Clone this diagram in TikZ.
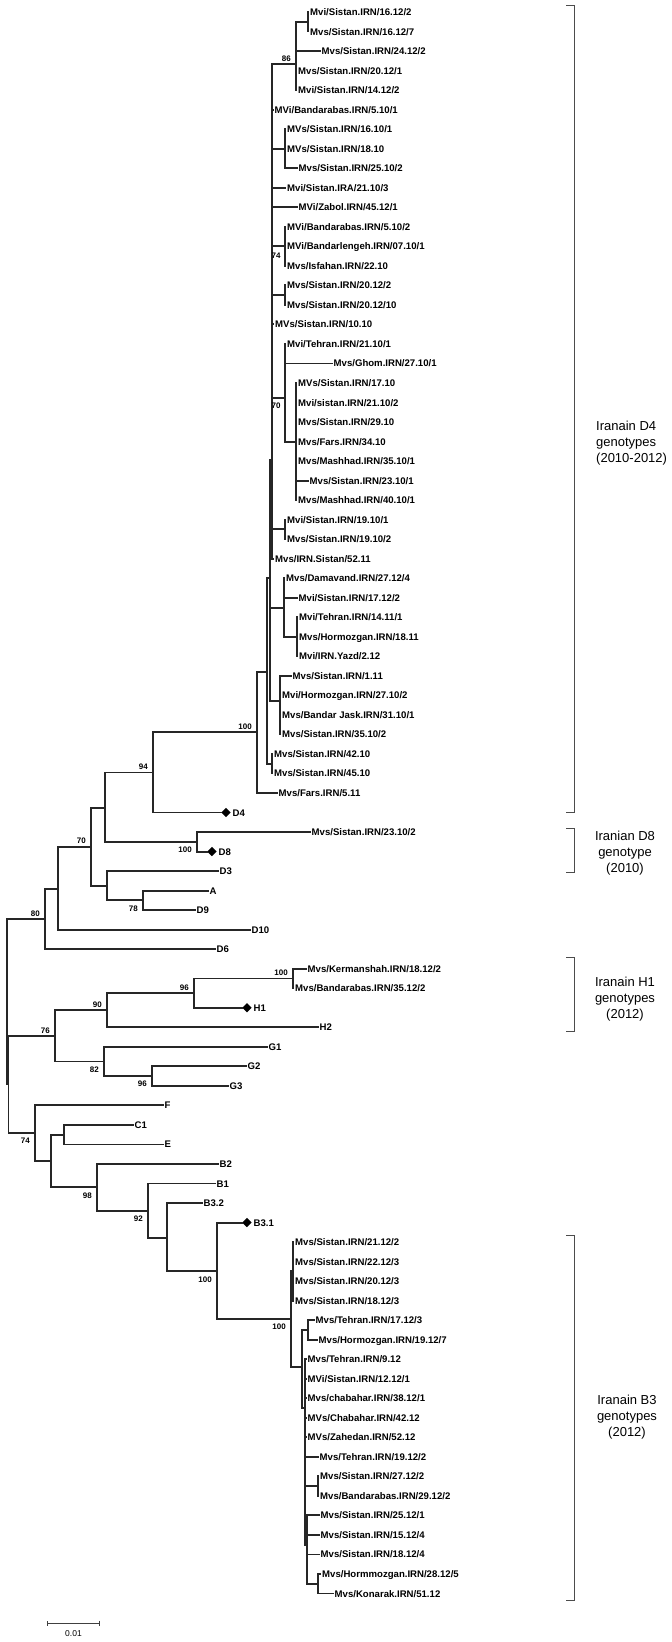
\documentclass[tikz,border=0pt]{standalone}
\usepackage{fontspec}
\setmainfont{Liberation Sans}
\usepackage{tikz}
\usetikzlibrary{shapes.geometric, arrows.meta, positioning}

\begin{document}
\begin{tikzpicture}[
        x=1pt, y=-19.525pt,
        branch/.style={line width=1.9pt, draw=black!85, line cap=rect},
        leaf/.style={anchor=west, inner xsep=1.5pt, inner ysep=0pt, text height=7pt, text depth=0pt, font=\fontsize{9.6}{10}\selectfont\bfseries},
        refdot/.style={diamond, fill=black, inner sep=0pt, minimum size=9.5pt, anchor=west},
        bsup/.style={anchor=south east, inner sep=0pt, xshift=-5pt, yshift=2.5pt, font=\fontsize{8}{8}\selectfont\bfseries},
        bsdown/.style={anchor=north east, inner sep=0pt, xshift=-5pt, yshift=-5pt, font=\fontsize{8}{8}\selectfont\bfseries},
        bsmid/.style={anchor=center, inner sep=0pt, font=\fontsize{8}{8}\selectfont\bfseries},
        bracket/.style={draw=black!70, line width=0.9pt},
        grouptext/.style={inner sep=0pt, font=\fontsize{13}{16}\selectfont},
        scalebar/.style={{Bar[width=5pt]}-{Bar[width=5pt]}, line width=0.8pt, draw=black!75}
    ]
        \useasboundingbox (0,0.3854) rectangle (672,84.483);

        % D4 CLADE (IRANIAN SEQUENCES 2010-2012)
        \node[leaf] (l1) at (308.5,1) {Mvi/Sistan.IRN/16.12/2};
        \node[leaf] (l2) at (308.5,2) {Mvs/Sistan.IRN/16.12/7};
        \node[leaf] (l3) at (320,3) {Mvs/Sistan.IRN/24.12/2};
        \node[leaf] (l4) at (296.5,4) {Mvs/Sistan.IRN/20.12/1};
        \node[leaf] (l5) at (296.5,5) {Mvi/Sistan.IRN/14.12/2};
        \node[leaf] (l6) at (273,6) {MVi/Bandarabas.IRN/5.10/1};
        \node[leaf] (l7) at (285.5,7) {MVs/Sistan.IRN/16.10/1};
        \node[leaf] (l8) at (285.5,8) {MVs/Sistan.IRN/18.10};
        \node[leaf] (l9) at (297,9) {Mvs/Sistan.IRN/25.10/2};
        \node[leaf] (l10) at (285.5,10) {Mvi/Sistan.IRA/21.10/3};
        \node[leaf] (l11) at (297,11) {MVi/Zabol.IRN/45.12/1};
        \node[leaf] (l12) at (285.5,12) {MVi/Bandarabas.IRN/5.10/2};
        \node[leaf] (l13) at (285.5,13) {MVi/Bandarlengeh.IRN/07.10/1};
        \node[leaf] (l14) at (285.5,14) {Mvs/Isfahan.IRN/22.10};
        \node[leaf] (l15) at (285.5,15) {Mvs/Sistan.IRN/20.12/2};
        \node[leaf] (l16) at (285.5,16) {Mvs/Sistan.IRN/20.12/10};
        \node[leaf] (l17) at (273.5,17) {MVs/Sistan.IRN/10.10};
        \node[leaf] (l18) at (285.5,18) {Mvi/Tehran.IRN/21.10/1};
        \node[leaf] (l19) at (332,19) {Mvs/Ghom.IRN/27.10/1};
        \node[leaf] (l20) at (296.5,20) {MVs/Sistan.IRN/17.10};
        \node[leaf] (l21) at (296.5,21) {Mvi/sistan.IRN/21.10/2};
        \node[leaf] (l22) at (296.5,22) {Mvs/Sistan.IRN/29.10};
        \node[leaf] (l23) at (296.5,23) {Mvs/Fars.IRN/34.10};
        \node[leaf] (l24) at (296.5,24) {Mvs/Mashhad.IRN/35.10/1};
        \node[leaf] (l25) at (308,25) {Mvs/Sistan.IRN/23.10/1};
        \node[leaf] (l26) at (296.5,26) {Mvs/Mashhad.IRN/40.10/1};
        \node[leaf] (l27) at (285.5,27) {Mvi/Sistan.IRN/19.10/1};
        \node[leaf] (l28) at (285.5,28) {Mvs/Sistan.IRN/19.10/2};
        \node[leaf] (l29) at (273.5,29) {Mvs/IRN.Sistan/52.11};
        \node[leaf] (l30) at (284.5,30) {Mvs/Damavand.IRN/27.12/4};
        \node[leaf] (l31) at (297,31) {Mvi/Sistan.IRN/17.12/2};
        \node[leaf] (l32) at (297.5,32) {Mvi/Tehran.IRN/14.11/1};
        \node[leaf] (l33) at (297.5,33) {Mvs/Hormozgan.IRN/18.11};
        \node[leaf] (l34) at (297.5,34) {Mvi/IRN.Yazd/2.12};
        \node[leaf] (l35) at (291,35) {Mvs/Sistan.IRN/1.11};
        \node[leaf] (l36) at (280.5,36) {Mvi/Hormozgan.IRN/27.10/2};
        \node[leaf] (l37) at (280.5,37) {Mvs/Bandar Jask.IRN/31.10/1};
        \node[leaf] (l38) at (280.5,38) {Mvs/Sistan.IRN/35.10/2};
        \node[leaf] (l39) at (272.5,39) {Mvs/Sistan.IRN/42.10};
        \node[leaf] (l40) at (272.5,40) {Mvs/Sistan.IRN/45.10};
        \node[leaf] (l41) at (277,41) {Mvs/Fars.IRN/5.11};

        % REFERENCE STRAINS AND SMALL CLADES
        \node[refdot] (d42) at (221,42) {};
        \node[leaf, right=0pt of d42] (l42) {D4};
        \node[leaf] (l43) at (310,43) {Mvs/Sistan.IRN/23.10/2};
        \node[refdot] (d44) at (207,44) {};
        \node[leaf, right=0pt of d44] (l44) {D8};
        \node[leaf] (l45) at (218,45) {D3};
        \node[leaf] (l46) at (208,46) {A};
        \node[leaf] (l47) at (195,47) {D9};
        \node[leaf] (l48) at (250,48) {D10};
        \node[leaf] (l49) at (215,49) {D6};
        \node[leaf] (l50) at (306,50) {Mvs/Kermanshah.IRN/18.12/2};
        \node[leaf] (l51) at (293.5,51) {Mvs/Bandarabas.IRN/35.12/2};
        \node[refdot] (d52) at (242,52) {};
        \node[leaf, right=0pt of d52] (l52) {H1};
        \node[leaf] (l53) at (318,53) {H2};
        \node[leaf] (l54) at (267,54) {G1};
        \node[leaf] (l55) at (246,55) {G2};
        \node[leaf] (l56) at (228,56) {G3};
        \node[leaf] (l57) at (163,57) {F};
        \node[leaf] (l58) at (133,58) {C1};
        \node[leaf] (l59) at (163,59) {E};
        \node[leaf] (l60) at (218,60) {B2};
        \node[leaf] (l61) at (215,61) {B1};
        \node[leaf] (l62) at (202,62) {B3.2};
        \node[refdot] (d63) at (242,63) {};
        \node[leaf, right=0pt of d63] (l63) {B3.1};

        % B3 CLADE (IRANIAN SEQUENCES 2012)
        \node[leaf] (l64) at (293.5,64) {Mvs/Sistan.IRN/21.12/2};
        \node[leaf] (l65) at (293.5,65) {Mvs/Sistan.IRN/22.12/3};
        \node[leaf] (l66) at (293.5,66) {Mvs/Sistan.IRN/20.12/3};
        \node[leaf] (l67) at (293.5,67) {Mvs/Sistan.IRN/18.12/3};
        \node[leaf] (l68) at (314,68) {Mvs/Tehran.IRN/17.12/3};
        \node[leaf] (l69) at (317,69) {Mvs/Hormozgan.IRN/19.12/7};
        \node[leaf] (l70) at (306,70) {Mvs/Tehran.IRN/9.12};
        \node[leaf] (l71) at (306,71) {MVi/Sistan.IRN/12.12/1};
        \node[leaf] (l72) at (306,72) {Mvs/chabahar.IRN/38.12/1};
        \node[leaf] (l73) at (306,73) {MVs/Chabahar.IRN/42.12};
        \node[leaf] (l74) at (306,74) {MVs/Zahedan.IRN/52.12};
        \node[leaf] (l75) at (318,75) {Mvs/Tehran.IRN/19.12/2};
        \node[leaf] (l76) at (318.5,76) {Mvs/Sistan.IRN/27.12/2};
        \node[leaf] (l77) at (318.5,77) {Mvs/Bandarabas.IRN/29.12/2};
        \node[leaf] (l78) at (319,78) {Mvs/Sistan.IRN/25.12/1};
        \node[leaf] (l79) at (319,79) {Mvs/Sistan.IRN/15.12/4};
        \node[leaf] (l80) at (319,80) {Mvs/Sistan.IRN/18.12/4};
        \node[leaf] (l81) at (320.5,81) {Mvs/Hormmozgan.IRN/28.12/5};
        \node[leaf] (l82) at (333,82) {Mvs/Konarak.IRN/51.12};

        % INTERNAL NODES
        \coordinate (n1612) at (308,1.5);
        \coordinate (n86) at (296,3.66);
        \coordinate (n1610) at (285,8.02);
        \coordinate (n74) at (285,13);
        \coordinate (n2012) at (285,15.5);
        \coordinate (nsub) at (296,23);
        \coordinate (nteh) at (285,20.77);
        \coordinate (n19) at (285,27.5);
        \coordinate (nc) at (272,23.94);
        \coordinate (nyazd) at (297,33);
        \coordinate (ndam) at (284,31.53);
        \coordinate (n111) at (280,36.3);
        \coordinate (nb) at (270,29.99);
        \coordinate (n42) at (272,39.5);
        \coordinate (na) at (267,34.8);
        \coordinate (n100) at (257,37.88);
        \coordinate (n94) at (153,39.95);
        \coordinate (nd8) at (197,43.5);
        \coordinate (n105) at (105,41.75);
        \coordinate (n78) at (143,46.5);
        \coordinate (nd3) at (107,45.75);
        \coordinate (n70) at (91,43.75);
        \coordinate (n58) at (58,45.9);
        \coordinate (n80) at (45,47.45);
        \coordinate (n100h) at (293,50.5);
        \coordinate (n96h) at (194,51.25);
        \coordinate (n90) at (107,52.12);
        \coordinate (n96g) at (152,55.5);
        \coordinate (n82) at (104,54.75);
        \coordinate (n76) at (55,53.44);
        \coordinate (nce) at (64,58.5);
        \coordinate (nb4) at (293,65.5);
        \coordinate (nt) at (308,68.5);
        \coordinate (nband) at (318,76.5);
        \coordinate (nkon) at (318,81.5);
        \coordinate (nr2) at (307,79.5);
        \coordinate (nrest) at (305,72.5);
        \coordinate (nlow) at (302,70.4);
        \coordinate (n100c) at (291,67.95);
        \coordinate (n100b) at (217,65.5);
        \coordinate (nb32) at (167,63.77);
        \coordinate (n92) at (148,62.4);
        \coordinate (n98) at (97,61.2);
        \coordinate (n51) at (51,59.85);
        \coordinate (n74b) at (35,58.4);
        \coordinate (nroot2) at (8.5,55.9);
        \coordinate (root) at (7,51.7);

        % BRANCHES
        \foreach \c in {1,2} \draw[branch] (n1612) |- (l\c.west);
        \draw[branch] (n86) |- (n1612);
        \foreach \c in {3,4,5} \draw[branch] (n86) |- (l\c.west);
        \foreach \c in {7,8,9} \draw[branch] (n1610) |- (l\c.west);
        \foreach \c in {12,13,14} \draw[branch] (n74) |- (l\c.west);
        \foreach \c in {15,16} \draw[branch] (n2012) |- (l\c.west);
        \foreach \c in {20,...,26} \draw[branch] (nsub) |- (l\c.west);
        \foreach \c in {18,19} \draw[branch] (nteh) |- (l\c.west);
        \draw[branch] (nteh) |- (nsub);
        \foreach \c in {27,28} \draw[branch] (n19) |- (l\c.west);
        \foreach \c in {6,10,11,17,29} \draw[branch] (nc) |- (l\c.west);
        \foreach \c in {n86,n1610,n74,n2012,nteh,n19} \draw[branch] (nc) |- (\c);
        \foreach \c in {32,33,34} \draw[branch] (nyazd) |- (l\c.west);
        \foreach \c in {30,31} \draw[branch] (ndam) |- (l\c.west);
        \draw[branch] (ndam) |- (nyazd);
        \foreach \c in {35,...,38} \draw[branch] (n111) |- (l\c.west);
        \foreach \c in {nc,ndam,n111} \draw[branch] (nb) |- (\c);
        \foreach \c in {39,40} \draw[branch] (n42) |- (l\c.west);
        \foreach \c in {nb,n42} \draw[branch] (na) |- (\c);
        \draw[branch] (n100) |- (na);
        \draw[branch] (n100) |- (l41.west);
        \draw[branch] (n94) |- (n100);
        \draw[branch] (n94) |- (d42.west);
        \draw[branch] (nd8) |- (l43.west);
        \draw[branch] (nd8) |- (d44.west);
        \foreach \c in {n94,nd8} \draw[branch] (n105) |- (\c);
        \foreach \c in {46,47} \draw[branch] (n78) |- (l\c.west);
        \draw[branch] (nd3) |- (l45.west);
        \draw[branch] (nd3) |- (n78);
        \foreach \c in {n105,nd3} \draw[branch] (n70) |- (\c);
        \draw[branch] (n58) |- (n70);
        \draw[branch] (n58) |- (l48.west);
        \draw[branch] (n80) |- (n58);
        \draw[branch] (n80) |- (l49.west);
        \foreach \c in {50,51} \draw[branch] (n100h) |- (l\c.west);
        \draw[branch] (n96h) |- (n100h);
        \draw[branch] (n96h) |- (d52.west);
        \draw[branch] (n90) |- (n96h);
        \draw[branch] (n90) |- (l53.west);
        \foreach \c in {55,56} \draw[branch] (n96g) |- (l\c.west);
        \draw[branch] (n82) |- (l54.west);
        \draw[branch] (n82) |- (n96g);
        \foreach \c in {n90,n82} \draw[branch] (n76) |- (\c);
        \foreach \c in {58,59} \draw[branch] (nce) |- (l\c.west);
        \foreach \c in {64,...,67} \draw[branch] (nb4) |- (l\c.west);
        \foreach \c in {68,69} \draw[branch] (nt) |- (l\c.west);
        \foreach \c in {76,77} \draw[branch] (nband) |- (l\c.west);
        \foreach \c in {81,82} \draw[branch] (nkon) |- (l\c.west);
        \foreach \c in {78,79,80} \draw[branch] (nr2) |- (l\c.west);
        \draw[branch] (nr2) |- (nkon);
        \foreach \c in {70,...,75} \draw[branch] (nrest) |- (l\c.west);
        \foreach \c in {nband,nr2} \draw[branch] (nrest) |- (\c);
        \foreach \c in {nt,nrest} \draw[branch] (nlow) |- (\c);
        \foreach \c in {nb4,nlow} \draw[branch] (n100c) |- (\c);
        \draw[branch] (n100b) |- (d63.west);
        \draw[branch] (n100b) |- (n100c);
        \draw[branch] (nb32) |- (l62.west);
        \draw[branch] (nb32) |- (n100b);
        \draw[branch] (n92) |- (l61.west);
        \draw[branch] (n92) |- (nb32);
        \draw[branch] (n98) |- (l60.west);
        \draw[branch] (n98) |- (n92);
        \foreach \c in {nce,n98} \draw[branch] (n51) |- (\c);
        \draw[branch] (n74b) |- (l57.west);
        \draw[branch] (n74b) |- (n51);
        \foreach \c in {n76,n74b} \draw[branch] (nroot2) |- (\c);
        \foreach \c in {n80,nroot2} \draw[branch] (root) |- (\c);

        % BOOTSTRAP VALUES
        \node[bsup] (bs86) at (n86) {86};
        \node[bsmid] (bs74) at (276,13.5) {74};
        \node[bsmid] (bs70) at (276,21.18) {70};
        \node[bsup] (bs100) at (n100) {100};
        \node[bsup] (bs94) at (n94) {94};
        \node[bsdown] (bs100d) at (nd8) {100};
        \node[bsup] (bs70d) at (n70) {70};
        \node[bsdown] (bs78) at (n78) {78};
        \node[bsup] (bs80) at (n80) {80};
        \node[bsup] (bs100h) at (n100h) {100};
        \node[bsup] (bs96h) at (n96h) {96};
        \node[bsup] (bs90) at (n90) {90};
        \node[bsup] (bs76) at (n76) {76};
        \node[bsdown] (bs82) at (n82) {82};
        \node[bsdown] (bs96g) at (n96g) {96};
        \node[bsdown] (bs74b) at (n74b) {74};
        \node[bsdown] (bs98) at (n98) {98};
        \node[bsdown] (bs92) at (n92) {92};
        \node[bsdown] (bs100b) at (n100b) {100};
        \node[bsdown] (bs100c) at (n100c) {100};

        % GROUP BRACKETS
        \draw[bracket] (566,0.642) -- (574,0.642) -- (574,42.02) -- (566,42.02);
        \draw[bracket] (566,42.79) -- (574,42.79) -- (574,45.05) -- (566,45.05);
        \draw[bracket] (566,49.4) -- (574,49.4) -- (574,53.19) -- (566,53.19);
        \draw[bracket] (566,63.64) -- (574,63.64) -- (574,82.33) -- (566,82.33);
        \node[grouptext, anchor=west, align=left] (gd4) at (596,23.1) {Iranain D4\\genotypes\\(2010-2012)};
        \node[grouptext, align=center] (gd8) at (625,44.07) {Iranian D8\\genotype\\(2010)};
        \node[grouptext, align=center] (gh1) at (625,51.55) {Iranain H1\\genotypes\\(2012)};
        \node[grouptext, align=center] (gb3) at (627,72.96) {Iranain B3\\genotypes\\(2012)};

        % SCALE BAR
        \coordinate (sbl) at (47,83.51);
        \coordinate (sbr) at (100,83.51);
        \draw[scalebar] (sbl) -- (sbr);
        \node[inner sep=0pt, font=\fontsize{8.5}{9}\selectfont] (sblabel) at (73.5,84.07) {0.01};
    \end{tikzpicture}
\end{document}
